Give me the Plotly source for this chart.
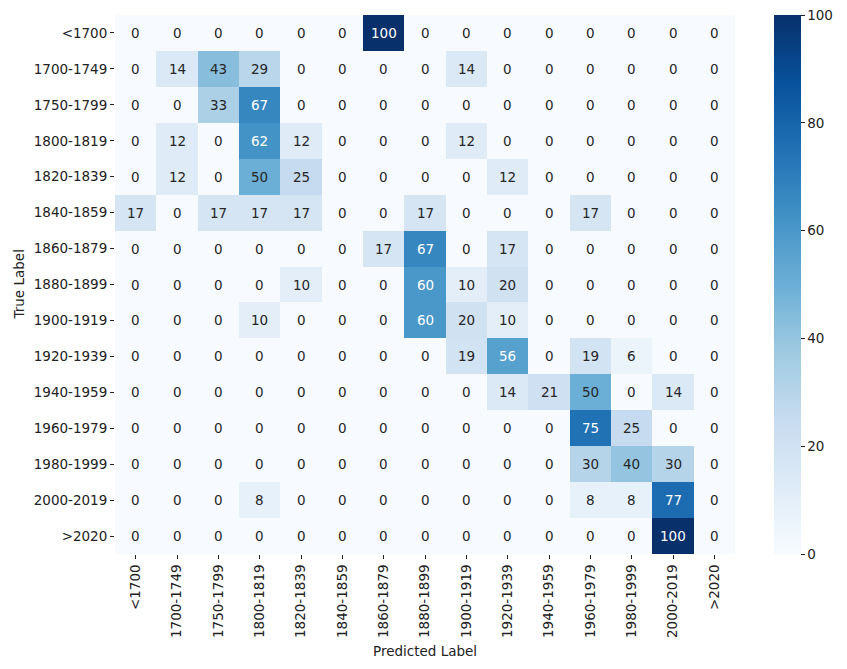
import plotly.graph_objects as go

# ===============================
# DATA
# ===============================
LABELS = ["<1700", "1700-1749", "1750-1799", "1800-1819", "1820-1839",
          "1840-1859", "1860-1879", "1880-1899", "1900-1919", "1920-1939",
          "1940-1959", "1960-1979", "1980-1999", "2000-2019", ">2020"]

ROW_LT1700 = [0, 0, 0, 0, 0, 0, 100, 0, 0, 0, 0, 0, 0, 0, 0]
ROW_1700 = [0, 14, 43, 29, 0, 0, 0, 0, 14, 0, 0, 0, 0, 0, 0]
ROW_1750 = [0, 0, 33, 67, 0, 0, 0, 0, 0, 0, 0, 0, 0, 0, 0]
ROW_1800 = [0, 12, 0, 62, 12, 0, 0, 0, 12, 0, 0, 0, 0, 0, 0]
ROW_1820 = [0, 12, 0, 50, 25, 0, 0, 0, 0, 12, 0, 0, 0, 0, 0]
ROW_1840 = [17, 0, 17, 17, 17, 0, 0, 17, 0, 0, 0, 17, 0, 0, 0]
ROW_1860 = [0, 0, 0, 0, 0, 0, 17, 67, 0, 17, 0, 0, 0, 0, 0]
ROW_1880 = [0, 0, 0, 0, 10, 0, 0, 60, 10, 20, 0, 0, 0, 0, 0]
ROW_1900 = [0, 0, 0, 10, 0, 0, 0, 60, 20, 10, 0, 0, 0, 0, 0]
ROW_1920 = [0, 0, 0, 0, 0, 0, 0, 0, 19, 56, 0, 19, 6, 0, 0]
ROW_1940 = [0, 0, 0, 0, 0, 0, 0, 0, 0, 14, 21, 50, 0, 14, 0]
ROW_1960 = [0, 0, 0, 0, 0, 0, 0, 0, 0, 0, 0, 75, 25, 0, 0]
ROW_1980 = [0, 0, 0, 0, 0, 0, 0, 0, 0, 0, 0, 30, 40, 30, 0]
ROW_2000 = [0, 0, 0, 8, 0, 0, 0, 0, 0, 0, 0, 8, 8, 77, 0]
ROW_GT2020 = [0, 0, 0, 0, 0, 0, 0, 0, 0, 0, 0, 0, 0, 100, 0]

MATRIX = [ROW_LT1700, ROW_1700, ROW_1750, ROW_1800, ROW_1820, ROW_1840,
          ROW_1860, ROW_1880, ROW_1900, ROW_1920, ROW_1940, ROW_1960,
          ROW_1980, ROW_2000, ROW_GT2020]

FONT = "DejaVu Sans, Liberation Sans, sans-serif"

fig = go.Figure(go.Heatmap(
    z=MATRIX, x=LABELS, y=LABELS,
    colorscale="Blues", zmin=0, zmax=100, xgap=0, ygap=0,
    colorbar=dict(
        x=1.063, xanchor="left", xpad=0, y=0, yanchor="bottom", ypad=0, len=1,
        thickness=27, outlinewidth=0,
        tickvals=[0, 20, 40, 60, 80, 100], ticks="outside", ticklen=4,
        tickcolor="#222", tickfont=dict(size=13.5, color="#222", family=FONT),
    ),
))

# cell labels, white on dark cells like seaborn's annot
for i, row in enumerate(MATRIX):
    for j, v in enumerate(row):
        fig.add_annotation(x=LABELS[j], y=LABELS[i], text=str(v), showarrow=False,
                           font=dict(size=13.5, family=FONT,
                                     color="white" if v > 52 else "#262626"))

# axis titles placed like matplotlib's
fig.add_annotation(xref="paper", yref="paper", x=0.5, y=0, yshift=-97,
                   yanchor="middle", text="Predicted Label", showarrow=False,
                   font=dict(size=13.5, family=FONT, color="#222"))
fig.add_annotation(xref="paper", yref="paper", x=0, xshift=-97, y=0.5,
                   xanchor="center", text="True Label", textangle=-90,
                   showarrow=False, font=dict(size=13.5, family=FONT, color="#222"))

fig.update_layout(
    width=847, height=669,
    margin=dict(l=115, r=112, t=15, b=115),
    paper_bgcolor="white", plot_bgcolor="white",
    font=dict(family=FONT, size=13.5, color="#222"),
    xaxis=dict(tickangle=-90, ticks="outside", ticklen=4, tickcolor="#222",
               showgrid=False, zeroline=False, automargin=False),
    yaxis=dict(autorange="reversed", ticks="outside", ticklen=4, tickcolor="#222",
               showgrid=False, zeroline=False, automargin=False),
)

# drop the page's default body margin so the figure sits at the window's corner
fig.write_html("out.html", config={"displayModeBar": False},
               post_script="document.body.style.margin='0';")
